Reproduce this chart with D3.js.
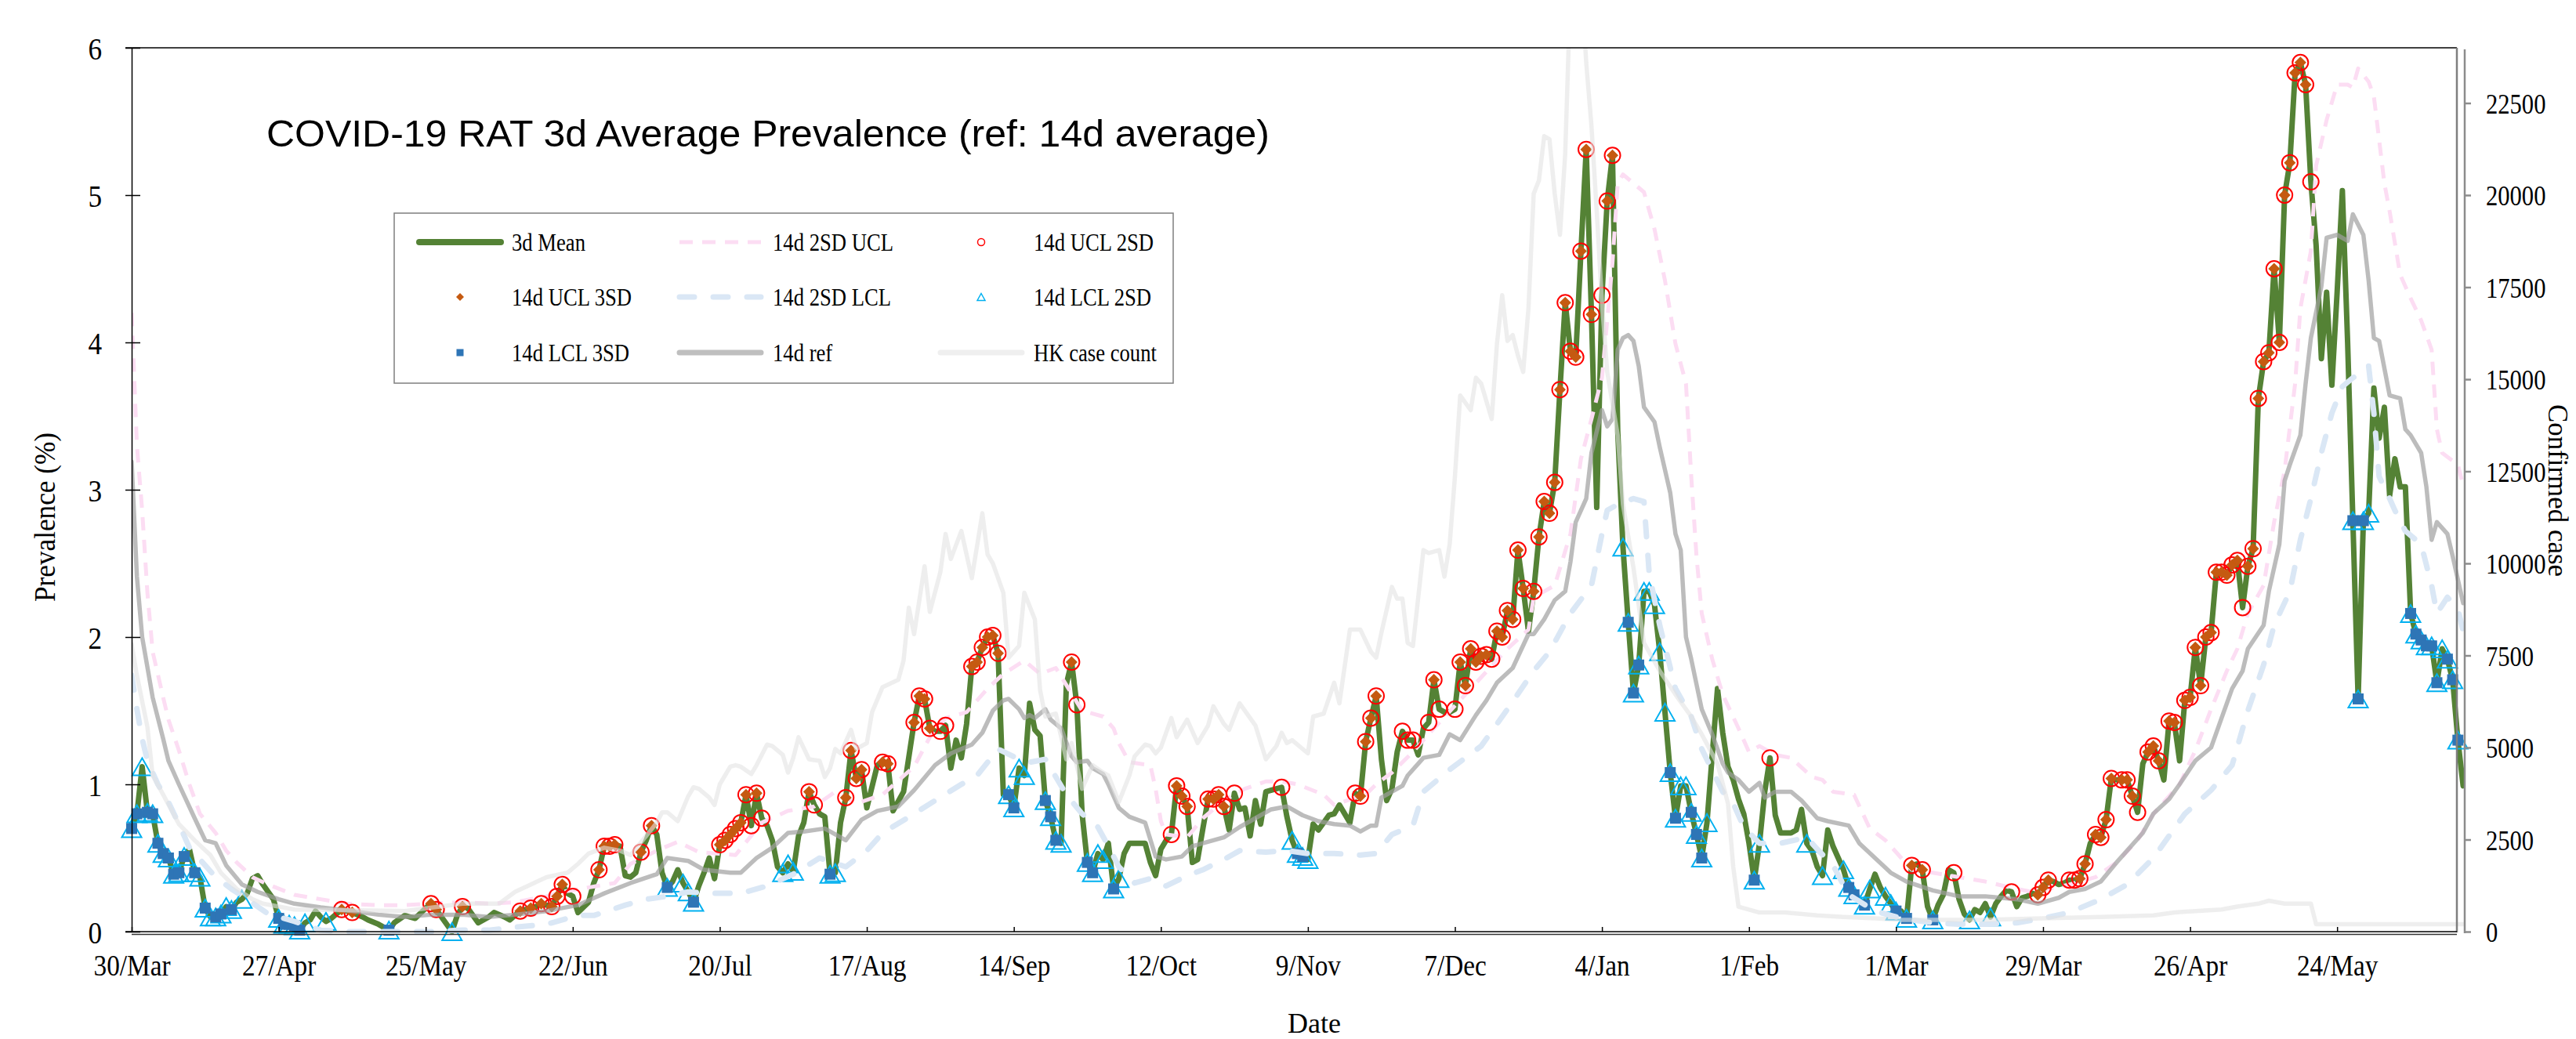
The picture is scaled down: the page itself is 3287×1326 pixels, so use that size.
<!DOCTYPE html>
<html>
<head>
<meta charset="utf-8">
<script src="https://cdn.jsdelivr.net/npm/d3@7"></script>
<style>
  html, body { margin: 0; padding: 0; background: #fff; }
  svg { display: block; }
</style>
</head>
<body>
<div id="chart"></div>
<script>
// ---- data (day offsets from 30/Mar/2022) ----
const startDate = new Date(Date.UTC(2022, 2, 30));
const tickDays = d3.range(0, 421, 28);
const leftTicks = [0, 1, 2, 3, 4, 5, 6];
const rightTicks = d3.range(0, 22501, 2500);

// 3d mean prevalence (%)
const mean3d = [
  [0,0.70],[1,0.80],[2,1.12],[3,0.81],[4,0.80],[5,0.60],[6,0.53],[7,0.50],[8,0.39],[9,0.40],
  [10,0.51],[11,0.56],[12,0.40],[13,0.37],[14,0.16],[15,0.10],[16,0.10],[17,0.12],[18,0.17],[19,0.15],
  [20,0.20],[21,0.22],[22,0.26],[23,0.36],[24,0.38],[25,0.32],[26,0.27],[27,0.22],[28,0.09],[29,0.05],
  [30,0.05],[31,0.04],[32,0.01],[33,0.06],[34,0.08],[35,0.14],[36,0.10],[37,0.07],[38,0.09],[39,0.12],
  [40,0.15],[41,0.14],[42,0.13],[44,0.10],[45,0.08],[47,0.05],[49,0.01],[50,0.06],[52,0.11],[54,0.09],
  [56,0.16],[57,0.19],[58,0.15],[59,0.10],[61,0.00],[62,0.11],[63,0.17],[64,0.16],[66,0.06],[68,0.10],
  [69,0.13],[71,0.10],[72,0.08],[74,0.14],[76,0.16],[77,0.17],[78,0.19],[79,0.18],[80,0.17],[81,0.24],
  [82,0.32],[83,0.26],[84,0.24],[85,0.13],[87,0.20],[88,0.33],[89,0.42],[90,0.58],[91,0.58],[92,0.59],
  [93,0.58],[94,0.38],[95,0.37],[96,0.40],[97,0.54],[98,0.62],[99,0.72],[100,0.66],[101,0.40],[102,0.30],
  [103,0.34],[104,0.42],[105,0.33],[106,0.27],[107,0.20],[108,0.31],[109,0.40],[110,0.50],[111,0.36],[112,0.59],
  [113,0.62],[114,0.66],[115,0.70],[116,0.74],[117,0.93],[118,0.72],[119,0.94],[120,0.77],[121,0.72],[122,0.62],
  [123,0.44],[124,0.40],[125,0.46],[126,0.41],[127,0.65],[128,0.74],[129,0.95],[130,0.86],[131,0.80],[132,0.78],
  [133,0.39],[134,0.40],[135,0.74],[136,0.91],[137,1.23],[138,1.04],[139,1.10],[140,0.84],[142,1.13],[143,1.15],
  [144,1.14],[145,0.82],[147,0.95],[149,1.42],[150,1.60],[151,1.58],[152,1.38],[153,1.36],[154,1.36],[155,1.40],
  [156,1.11],[157,1.30],[158,1.18],[159,1.41],[160,1.80],[161,1.83],[162,1.93],[163,2.00],[164,2.01],[165,1.89],
  [166,0.93],[167,0.93],[168,0.84],[169,1.11],[170,1.06],[171,1.55],[172,1.37],[173,1.33],[174,0.89],[175,0.78],
  [176,0.62],[177,0.60],[178,1.68],[179,1.83],[180,1.54],[181,0.80],[182,0.47],[183,0.40],[184,0.53],[185,0.49],
  [186,0.60],[187,0.29],[188,0.36],[189,0.53],[190,0.60],[193,0.60],[194,0.47],[195,0.38],[196,0.56],[197,0.62],
  [198,0.66],[199,0.99],[200,0.92],[201,0.85],[202,0.47],[203,0.49],[204,0.70],[205,0.90],[206,0.90],[207,0.93],
  [208,0.85],[209,0.69],[210,0.94],[211,0.83],[212,0.84],[213,0.65],[214,0.89],[215,0.73],[216,0.95],[218,0.97],
  [219,0.98],[220,0.78],[221,0.62],[222,0.53],[223,0.51],[224,0.49],[225,0.73],[226,0.69],[228,0.79],[229,0.80],
  [230,0.86],[232,0.74],[233,0.94],[234,0.92],[235,1.29],[236,1.45],[237,1.60],[238,1.17],[239,0.89],[240,0.97],
  [241,1.22],[242,1.36],[243,1.30],[244,1.30],[245,1.20],[246,1.38],[247,1.42],[248,1.71],[249,1.51],[250,1.49],
  [251,1.49],[252,1.51],[253,1.83],[254,1.67],[255,1.92],[256,1.83],[257,1.87],[258,1.88],[259,1.85],[260,2.04],
  [261,2.00],[262,2.18],[263,2.12],[264,2.59],[265,2.33],[266,2.04],[267,2.31],[268,2.68],[269,2.92],[270,2.84],
  [271,3.05],[272,3.68],[273,4.27],[274,3.94],[275,3.90],[276,4.62],[277,5.31],[278,4.19],[279,2.88],[280,4.32],
  [281,4.96],[282,5.27],[283,3.40],[284,2.61],[285,2.10],[286,1.62],[287,1.81],[288,2.31],[289,2.31],[290,2.22],
  [291,1.90],[292,1.49],[293,1.08],[294,0.77],[295,0.99],[296,0.99],[297,0.81],[298,0.66],[299,0.50],[300,0.74],
  [301,1.20],[302,1.65],[303,1.35],[304,1.12],[305,1.03],[306,0.90],[307,0.80],[308,0.60],[309,0.35],[310,0.60],
  [311,0.95],[312,1.18],[313,0.79],[314,0.67],[316,0.67],[317,0.69],[318,0.83],[319,0.60],[320,0.55],[321,0.44],
  [322,0.38],[323,0.69],[324,0.58],[325,0.50],[326,0.42],[327,0.30],[328,0.25],[329,0.22],[330,0.18],[331,0.29],
  [332,0.39],[333,0.30],[334,0.24],[335,0.19],[336,0.14],[337,0.14],[338,0.09],[339,0.45],[340,0.46],[341,0.42],
  [342,0.17],[343,0.08],[344,0.18],[345,0.25],[346,0.42],[347,0.40],[348,0.22],[349,0.12],[350,0.08],[351,0.15],
  [352,0.13],[353,0.19],[354,0.10],[355,0.19],[356,0.24],[357,0.28],[358,0.27],[359,0.17],[360,0.23],[361,0.24],
  [362,0.26],[363,0.25],[364,0.30],[365,0.35],[366,0.34],[367,0.32],[368,0.33],[369,0.35],[370,0.35],[371,0.36],
  [372,0.46],[373,0.60],[374,0.66],[375,0.64],[376,0.76],[377,1.04],[378,1.03],[379,1.03],[380,1.03],[381,0.92],
  [382,0.81],[383,1.14],[384,1.22],[385,1.26],[386,1.16],[387,1.03],[388,1.43],[389,1.42],[390,1.16],[391,1.57],
  [392,1.59],[393,1.93],[394,1.67],[395,2.00],[396,2.03],[397,2.44],[398,2.44],[399,2.42],[400,2.49],[401,2.52],
  [402,2.20],[403,2.48],[404,2.60],[405,3.62],[406,3.87],[407,3.93],[408,4.50],[409,4.00],[410,5.00],[411,5.22],
  [412,5.83],[413,5.90],[414,5.75],[415,5.09],[416,4.66],[417,3.89],[418,4.34],[419,3.71],[420,4.34],[421,5.03],
  [422,4.00],[423,2.79],[424,1.58],[425,2.79],[426,2.84],[427,3.69],[428,3.35],[429,3.56],[430,2.96],[431,3.21],
  [432,3.02],[433,3.02],[434,2.16],[435,2.02],[436,1.98],[437,1.94],[438,1.94],[439,1.69],[440,1.92],[441,1.85],
  [442,1.71],[443,1.30],[444,0.99]
];

// 14d reference average (%)
const ref14 = [
  [0,3.19],[1,2.41],[2,2.00],[4,1.59],[6,1.31],[7,1.16],[9,1.00],[12,0.77],[14,0.62],[16,0.60],[18,0.45],
  [21,0.32],[24,0.27],[28,0.22],[31,0.19],[36,0.165],[42,0.14],[47,0.115],[52,0.10],[57,0.115],[63,0.115],
  [68,0.10],[73,0.115],[79,0.14],[82,0.16],[85,0.18],[90,0.26],[95,0.33],[100,0.39],[102,0.50],[106,0.48],
  [109,0.42],[114,0.40],[116,0.40],[119,0.50],[122,0.57],[125,0.67],[128,0.68],[132,0.70],[136,0.62],[139,0.76],
  [142,0.82],[146,0.85],[149,0.96],[153,1.13],[156,1.21],[160,1.27],[162,1.35],[164,1.50],[166,1.57],[167,1.58],
  [169,1.51],[170,1.45],[171,1.47],[172,1.45],[174,1.51],[175,1.44],[177,1.38],[179,1.19],[180,1.15],[182,1.16],
  [183,1.11],[185,1.07],[186,1.00],[188,0.84],[190,0.78],[193,0.74],[195,0.51],[197,0.49],[200,0.51],[202,0.58],
  [204,0.60],[208,0.64],[211,0.71],[213,0.75],[217,0.83],[220,0.85],[223,0.79],[226,0.75],[229,0.73],[232,0.72],
  [234,0.68],[236,0.72],[237,0.72],[238,0.91],[240,0.95],[242,0.99],[243,1.06],[246,1.18],[249,1.20],[251,1.34],
  [253,1.30],[256,1.47],[258,1.57],[260,1.69],[263,1.79],[266,2.02],[267,2.02],[269,2.12],[271,2.25],[273,2.31],
  [274,2.51],[275,2.78],[277,2.94],[278,3.25],[280,3.54],[281,3.43],[282,3.48],[283,3.95],[284,4.03],[285,4.05],
  [286,4.01],[287,3.84],[288,3.56],[290,3.46],[291,3.29],[293,2.98],[294,2.70],[295,2.59],[296,2.00],[297,1.85],
  [299,1.51],[301,1.34],[303,1.14],[304,1.08],[306,1.03],[308,0.95],[310,1.01],[311,0.91],[313,0.95],[316,0.95],
  [318,0.89],[321,0.77],[323,0.75],[327,0.72],[329,0.60],[332,0.50],[335,0.40],[338,0.34],[343,0.28],[348,0.24],
  [353,0.24],[359,0.22],[363,0.19],[367,0.23],[369,0.27],[372,0.29],[375,0.34],[378,0.47],[380,0.55],[383,0.67],
  [385,0.80],[388,0.90],[390,1.00],[393,1.16],[396,1.25],[398,1.45],[400,1.65],[402,1.77],[403,1.92],[406,2.08],
  [407,2.31],[409,2.63],[410,3.06],[411,3.17],[413,3.37],[414,3.72],[415,4.03],[417,4.38],[418,4.71],[420,4.73],
  [422,4.69],[423,4.87],[425,4.73],[426,4.42],[427,4.03],[428,4.01],[430,3.64],[432,3.62],[433,3.41],[434,3.37],
  [436,3.25],[437,3.02],[438,2.66],[439,2.78],[441,2.70],[442,2.55],[444,2.23]
];

// 14d 2SD upper control limit (%)
const ucl2sd = [
  [0,4.20],[1,3.30],[2,2.86],[3,2.30],[4,1.90],[6,1.59],[7,1.44],[9,1.23],[11,1.00],[13,0.80],[16,0.67],
  [18,0.55],[20,0.47],[23,0.37],[26,0.32],[31,0.25],[36,0.22],[41,0.19],[47,0.18],[52,0.18],[57,0.19],
  [63,0.20],[68,0.19],[73,0.20],[79,0.24],[82,0.27],[87,0.30],[92,0.33],[95,0.46],[100,0.55],[104,0.61],
  [108,0.54],[115,0.52],[120,0.74],[125,0.82],[130,0.85],[134,0.95],[138,0.87],[143,0.93],[149,1.12],[152,1.32],
  [155,1.45],[159,1.49],[163,1.65],[166,1.75],[170,1.84],[173,1.75],[176,1.79],[181,1.50],[185,1.46],[187,1.38],
  [188,1.28],[190,1.15],[194,1.13],[195,0.97],[196,0.75],[197,0.66],[201,0.64],[204,0.77],[208,0.89],[212,0.97],
  [216,1.02],[219,1.02],[222,1.00],[227,0.93],[229,0.86],[233,0.91],[235,0.93],[237,1.00],[240,1.08],[244,1.22],
  [248,1.38],[254,1.61],[262,1.92],[266,2.05],[267,2.27],[271,2.35],[274,2.70],[276,3.21],[278,3.48],[280,3.76],
  [282,4.54],[283,5.08],[284,5.14],[288,5.02],[290,4.77],[292,4.42],[294,3.99],[296,3.72],[297,3.09],[298,2.55],
  [299,2.16],[301,1.85],[303,1.61],[306,1.38],[308,1.22],[310,1.26],[313,1.20],[316,1.18],[320,1.05],[322,1.03],
  [324,0.95],[328,0.93],[331,0.70],[334,0.62],[337,0.50],[339,0.42],[343,0.40],[348,0.37],[353,0.34],[359,0.29],
  [362,0.27],[365,0.29],[369,0.32],[374,0.37],[378,0.47],[382,0.62],[385,0.80],[390,1.00],[393,1.23],[396,1.51],
  [399,1.77],[401,1.92],[403,2.16],[406,2.35],[408,2.78],[410,3.13],[412,3.72],[413,4.23],[415,4.62],[416,5.20],
  [418,5.51],[420,5.75],[422,5.75],[423,5.73],[424,5.86],[426,5.77],[427,5.67],[429,5.08],[430,4.89],[432,4.46],
  [434,4.30],[436,4.15],[438,3.95],[439,3.41],[440,3.25],[443,3.17],[444,3.03]
];

// 14d 2SD lower control limit (%)
const lcl2sd = [
  [0,1.74],[1,1.51],[2,1.31],[3,1.16],[5,1.00],[7,0.88],[9,0.73],[11,0.57],[14,0.45],[16,0.37],[19,0.29],
  [22,0.22],[26,0.12],[31,0.07],[36,0.01],[41,0.00],[47,0.00],[57,0.00],[63,0.01],[68,0.01],[73,0.03],
  [79,0.05],[81,0.07],[85,0.11],[88,0.11],[94,0.18],[98,0.22],[102,0.24],[106,0.27],[110,0.26],[116,0.26],
  [121,0.31],[126,0.39],[131,0.50],[136,0.44],[140,0.55],[143,0.67],[149,0.80],[153,0.89],[158,1.00],[161,1.06],
  [165,1.24],[169,1.17],[171,1.15],[174,1.17],[178,0.93],[181,0.80],[184,0.71],[186,0.58],[188,0.44],[191,0.33],
  [194,0.36],[197,0.31],[201,0.38],[204,0.42],[208,0.49],[211,0.55],[216,0.54],[220,0.55],[224,0.53],[229,0.53],
  [234,0.52],[237,0.53],[240,0.66],[244,0.72],[246,0.95],[251,1.10],[257,1.26],[262,1.51],[267,1.77],[270,1.90],
  [274,2.16],[278,2.35],[280,2.70],[281,2.86],[283,2.90],[286,2.94],[288,2.92],[289,2.43],[291,2.08],[294,1.65],
  [297,1.46],[299,1.24],[303,0.95],[305,0.87],[307,0.71],[310,0.60],[314,0.60],[319,0.64],[321,0.56],[324,0.45],
  [327,0.25],[332,0.14],[337,0.09],[343,0.06],[348,0.05],[353,0.05],[359,0.06],[364,0.09],[369,0.13],[375,0.22],
  [380,0.32],[385,0.50],[391,0.80],[396,0.96],[400,1.13],[403,1.50],[406,1.81],[408,2.08],[411,2.31],[413,2.66],
  [415,2.94],[417,3.25],[419,3.52],[421,3.70],[423,3.76],[424,3.78],[426,3.84],[427,3.52],[428,3.09],[430,2.94],
  [431,2.86],[433,2.72],[436,2.63],[438,2.35],[439,2.16],[441,2.27],[443,2.19],[444,2.04]
];

// HK confirmed cases (right axis)
const hkCases = [
  [0,7800],[1,6960],[3,5560],[4,4240],[6,3720],[9,2920],[12,2480],[15,2080],[17,1600],[20,1160],[23,880],
  [25,760],[31,600],[52,560],[63,760],[70,760],[73,1080],[79,1480],[83,1600],[85,1840],[87,2120],[90,2280],
  [93,2200],[95,2080],[98,2600],[100,2960],[101,3240],[102,3240],[104,3000],[106,3680],[107,3920],[108,3880],
  [110,3640],[111,3440],[112,4000],[114,4480],[115,4520],[116,4480],[118,4280],[119,4520],[121,5080],[122,5040],
  [124,4800],[125,4320],[126,4720],[127,5280],[129,4680],[131,4640],[132,4200],[133,4440],[134,4960],[135,4840],
  [137,5480],[138,4960],[140,5120],[141,5960],[143,6640],[146,6840],[147,7360],[148,8800],[149,8080],[151,9920],
  [152,8680],[154,9760],[155,10800],[156,10120],[158,10880],[160,9600],[162,11360],[163,10240],[164,10000],[166,9200],
  [167,7440],[169,7760],[170,9200],[172,8480],[173,6560],[174,5840],[176,5920],[178,4680],[179,5120],[181,3880],
  [183,4520],[185,4320],[186,4240],[188,3520],[190,4240],[191,4760],[193,5080],[194,5040],[195,4840],[196,5000],
  [198,5800],[199,5280],[201,5760],[203,5120],[205,5600],[206,6120],[208,5640],[209,5480],[211,6200],[214,5600],
  [216,4680],[218,5040],[219,5400],[220,5120],[221,5200],[224,4840],[225,5840],[227,5920],[229,6760],[230,6200],
  [232,8200],[234,8200],[236,7600],[237,7440],[238,8120],[240,9360],[241,9040],[242,9040],[243,7840],[244,7760],
  [246,10360],[247,10280],[249,10360],[250,9640],[251,10520],[252,12360],[253,14560],[255,14160],[256,15040],[257,14880],
  [259,13920],[260,15960],[261,17280],[262,16040],[263,16200],[264,15640],[265,15200],[266,16920],[267,20040],[268,20400],
  [269,21600],[270,21520],[271,20040],[272,18920],[273,21120],[274,25600],[275,26500],[276,26000],[277,23600],[278,21880],
  [279,19560],[280,17080],[281,15200],[283,13480],[284,11600],[286,9880],[288,7840],[291,7080],[294,6440],[297,5840],
  [299,5360],[302,4560],[304,3480],[305,1760],[306,680],[310,520],[315,520],[321,440],[326,400],[332,360],
  [337,320],[353,320],[364,360],[375,400],[385,440],[389,520],[393,560],[398,600],[401,680],[405,760],
  [407,840],[410,760],[415,760],[416,200],[444,200]
];

// days on which the 3d mean is flagged
const ucl2Days = [40,42,57,58,63,74,76,78,80,81,82,84,89,90,91,92,97,99,112,113,114,115,116,117,118,119,120,129,130,
  136,137,138,139,143,144,149,150,151,152,154,155,160,161,162,163,164,165,179,180,198,199,200,201,205,206,207,208,210,
  219,233,234,235,236,237,242,243,244,247,248,249,252,253,254,255,256,257,258,259,260,261,262,263,264,265,267,268,269,
  270,271,272,273,274,275,276,277,278,280,281,282,312,339,341,347,358,363,364,365,369,370,371,372,374,375,376,377,379,
  380,381,382,384,385,386,388,389,391,392,393,394,395,396,397,398,399,400,401,402,403,404,405,406,407,408,409,410,411,
  412,413,414,415];
const ucl3Days = [40,42,57,58,63,74,76,78,80,81,82,89,90,91,92,97,99,112,113,114,115,116,117,119,129,136,137,138,139,
  143,144,149,150,151,152,160,161,162,163,164,165,179,199,200,201,205,206,207,208,234,235,236,237,248,253,254,255,256,
  257,258,260,261,262,263,264,265,267,268,269,270,271,272,273,274,275,276,277,278,281,282,339,341,363,364,365,371,372,
  374,375,376,377,379,380,381,384,385,386,388,389,391,392,393,394,395,396,397,398,399,400,401,403,404,405,406,407,408,
  409,410,411,412,413,414];
const lcl2Days = [0,1,2,3,4,5,6,7,8,9,10,12,13,14,15,16,17,18,19,21,28,29,30,31,32,33,37,49,61,102,105,106,107,124,125,
  126,133,134,167,168,169,170,174,175,176,177,182,183,184,185,187,188,221,222,223,224,284,285,286,287,288,289,290,291,
  292,293,294,295,296,297,298,299,300,309,310,319,322,326,327,328,330,331,334,335,336,338,343,350,354,423,424,425,426,
  434,435,436,437,438,439,440,441,442,443];
const lcl3Days = [0,1,3,4,5,6,7,8,9,10,12,14,16,17,19,28,29,30,31,32,49,102,107,133,167,168,174,175,176,182,183,187,
  222,223,285,286,287,293,294,297,298,299,309,327,328,330,336,338,343,423,424,425,434,435,436,437,438,439,441,442,443];

// ---- layout ----
const W = 3287, H = 1326;
const plot = { left: 168, right: 3143, top: 61, bottom: 1189 };
const serif = '"Liberation Serif", "Times New Roman", serif';
const sans = '"Liberation Sans", Arial, sans-serif';

const day = d => d3.utcDay.offset(startDate, d);
const x = d3.scaleUtc().domain([startDate, day(444)]).range([plot.left, plot.right]);
const y = d3.scaleLinear().domain([0, 6]).range([plot.bottom, plot.top]);
const y2 = d3.scaleLinear().domain([0, 24000]).range([plot.bottom, plot.top]);

const svg = d3.select("#chart").append("svg")
  .attr("width", W).attr("height", H)
  .style("font-family", serif);

svg.append("rect").attr("width", W).attr("height", H).attr("fill", "#fff");

svg.append("defs").append("clipPath").attr("id", "plotClip")
  .append("rect")
  .attr("x", plot.left).attr("y", plot.top)
  .attr("width", 3146 - plot.left).attr("height", plot.bottom - plot.top + 3);

const line = d3.line().x(d => x(day(d[0]))).y(d => y(d[1]));
const line2 = d3.line().x(d => x(day(d[0]))).y(d => y2(d[1]));

const meanByDay = new Map(mean3d);
const flagged = days => days.filter(d => meanByDay.has(d)).map(d => [d, meanByDay.get(d)]);

const lines = svg.append("g").attr("clip-path", "url(#plotClip)");
const marks = svg.append("g");

function drawLine(g, data, gen, color, width, dash, cap, opacity) {
  g.append("path")
    .datum(data)
    .attr("d", gen)
    .attr("fill", "none")
    .attr("stroke", color)
    .attr("stroke-width", width)
    .attr("stroke-linejoin", "round")
    .attr("stroke-linecap", cap || "butt")
    .attr("stroke-dasharray", dash || null)
    .attr("opacity", opacity || 1);
}

const diamondPath = s => `M0,${-s}L${s},0L0,${s}L${-s},0Z`;
const trianglePath = (w, h) => `M0,${-h}L${w},${h}L${-w},${h}Z`;

// series order as in the legend; secondary axis series on top
drawLine(lines, mean3d, line, "#548235", 7, null, "round");
drawLine(lines, ucl2sd, line, "#FCDDF3", 5, "17,12");

marks.append("g").selectAll("circle")
  .data(flagged(ucl2Days)).enter().append("circle")
  .attr("cx", d => x(day(d[0]))).attr("cy", d => y(d[1]))
  .attr("r", 10).attr("fill", "none").attr("stroke", "#FF0000").attr("stroke-width", 2);

marks.append("g").selectAll("path")
  .data(flagged(ucl3Days)).enter().append("path")
  .attr("transform", d => `translate(${x(day(d[0]))},${y(d[1])})`)
  .attr("d", diamondPath(7.5)).attr("fill", "#C55A11");

const lclG = svg.append("g").attr("clip-path", "url(#plotClip)");
drawLine(lclG, lcl2sd, line, "#DAE7F5", 7, "19,24", "round");

marks.append("g").selectAll("path")
  .data(flagged(lcl2Days)).enter().append("path")
  .attr("transform", d => `translate(${x(day(d[0]))},${y(d[1])})`)
  .attr("d", trianglePath(12.5, 11)).attr("fill", "none")
  .attr("stroke", "#00B0F0").attr("stroke-width", 2);

marks.append("g").selectAll("rect")
  .data(flagged(lcl3Days)).enter().append("rect")
  .attr("x", d => x(day(d[0])) - 7).attr("y", d => y(d[1]) - 7)
  .attr("width", 14).attr("height", 14).attr("fill", "#2E75B6");

const topG = svg.append("g").attr("clip-path", "url(#plotClip)");
drawLine(topG, ref14, line, "#A0A0A0", 5.5, null, "round", 0.7);
drawLine(topG, hkCases, line2, "#E2E2E2", 5.5, null, "round", 0.6);

// ---- frame ----
svg.append("line").attr("x1", 160).attr("x2", 3135).attr("y1", plot.top).attr("y2", plot.top)
  .attr("stroke", "#000").attr("stroke-width", 1.5);
svg.append("line").attr("x1", 3135).attr("x2", 3135).attr("y1", plot.top).attr("y2", 1190)
  .attr("stroke", "#7F7F7F").attr("stroke-width", 2.5);
svg.append("line").attr("x1", 168).attr("x2", 3135).attr("y1", 1192.5).attr("y2", 1192.5)
  .attr("stroke", "#333").attr("stroke-width", 1.5);

// left axis
const yAxis = svg.append("g").attr("transform", `translate(${plot.left},0)`)
  .call(d3.axisLeft(y).tickValues(leftTicks).tickFormat(d3.format("d")).tickSizeOuter(0));
yAxis.select(".domain").attr("stroke", "#000").attr("stroke-width", 1.5);
yAxis.selectAll(".tick line").attr("x1", 11).attr("x2", -8).attr("stroke", "#000").attr("stroke-width", 1.5);
yAxis.selectAll(".tick text")
  .attr("x", 0).attr("dy", "0.35em")
  .attr("transform", "translate(-38,0) scale(0.88,1)")
  .attr("text-anchor", "end")
  .style("font-family", serif).style("font-size", "40px").attr("fill", "#000");

// bottom axis
const xAxis = svg.append("g").attr("transform", `translate(0,${plot.bottom})`)
  .call(d3.axisBottom(x).tickValues(tickDays.map(day))
    .tickFormat(d3.utcFormat("%-d/%b")).tickSizeInner(-6).tickSizeOuter(0));
xAxis.select(".domain").remove();
xAxis.append("line").attr("x1", 160).attr("x2", 3135).attr("y1", 0).attr("y2", 0)
  .attr("stroke", "#000").attr("stroke-width", 1.5);
xAxis.selectAll(".tick line").attr("stroke", "#000").attr("stroke-width", 1.5);
xAxis.selectAll(".tick text")
  .attr("y", 0).attr("dy", 0)
  .attr("transform", "translate(0,56) scale(0.9,1)")
  .style("font-family", serif).style("font-size", "37px").attr("fill", "#000");

// right axis
const y2Axis = svg.append("g").attr("transform", "translate(3145,0)")
  .call(d3.axisRight(y2).tickValues(rightTicks).tickFormat(d3.format("d")).tickSizeInner(8).tickSizeOuter(0));
y2Axis.select(".domain").remove();
y2Axis.append("line").attr("x1", 0).attr("x2", 0).attr("y1", 63).attr("y2", 1191)
  .attr("stroke", "#8C8C8C").attr("stroke-width", 2.5);
y2Axis.selectAll(".tick line").attr("stroke", "#8C8C8C").attr("stroke-width", 2.5);
y2Axis.selectAll(".tick text")
  .attr("x", 0).attr("dy", "0.35em")
  .attr("transform", "translate(27,0) scale(0.85,1)")
  .attr("text-anchor", "start")
  .style("font-family", serif).style("font-size", "36px").attr("fill", "#000");

// axis titles
svg.append("text")
  .attr("transform", "translate(70,660) rotate(-90)")
  .attr("text-anchor", "middle")
  .attr("textLength", 216).attr("lengthAdjust", "spacingAndGlyphs")
  .style("font-size", "38px").text("Prevalence (%)");

svg.append("text")
  .attr("transform", "translate(3252,626) rotate(90)")
  .attr("text-anchor", "middle")
  .attr("textLength", 220).attr("lengthAdjust", "spacingAndGlyphs")
  .style("font-size", "36px").text("Confirmed case");

svg.append("text")
  .attr("x", 1677).attr("y", 1318)
  .attr("text-anchor", "middle")
  .style("font-size", "36px").text("Date");

// title
svg.append("text")
  .attr("x", 340).attr("y", 187)
  .attr("textLength", 1280).attr("lengthAdjust", "spacingAndGlyphs")
  .style("font-family", sans).style("font-size", "49px").attr("fill", "#000")
  .text("COVID-19 RAT 3d Average Prevalence (ref: 14d average)");

// ---- legend ----
const legend = svg.append("g");
legend.append("rect")
  .attr("x", 503).attr("y", 272).attr("width", 994).attr("height", 217)
  .attr("fill", "#fff").attr("stroke", "#7F7F7F").attr("stroke-width", 1.5);

const rowsY = [309, 379, 450];
const colX = [587, 919, 1252];
const colText = [653, 986, 1319];
const legendItems = [
  { name: "3d Mean", type: "line", color: "#548235", width: 8 },
  { name: "14d 2SD UCL", type: "dash", color: "#FCDDF3", width: 5, dash: "17,12" },
  { name: "14d UCL 2SD", type: "circle" },
  { name: "14d UCL 3SD", type: "diamond" },
  { name: "14d 2SD LCL", type: "dash", color: "#DAE7F5", width: 7, dash: "19,24", cap: "round" },
  { name: "14d LCL 2SD", type: "triangle" },
  { name: "14d LCL 3SD", type: "square" },
  { name: "14d ref", type: "line", color: "#BFBFBF", width: 7 },
  { name: "HK case count", type: "line", color: "#EFEFEF", width: 7 }
];

legendItems.forEach((item, i) => {
  const cx = colX[i % 3], cy = rowsY[Math.floor(i / 3)];
  const g = legend.append("g").attr("transform", `translate(${cx},${cy})`);
  if (item.type === "line" || item.type === "dash") {
    g.append("line").attr("x1", -52).attr("x2", 52).attr("y1", 0).attr("y2", 0)
      .attr("stroke", item.color).attr("stroke-width", item.width)
      .attr("stroke-dasharray", item.dash || null)
      .attr("stroke-linecap", item.cap || (item.type === "line" ? "round" : "butt"));
  } else if (item.type === "circle") {
    g.append("circle").attr("r", 4.5).attr("fill", "none").attr("stroke", "#FF0000").attr("stroke-width", 1.5);
  } else if (item.type === "diamond") {
    g.append("path").attr("d", diamondPath(5)).attr("fill", "#C55A11");
  } else if (item.type === "triangle") {
    g.append("path").attr("d", trianglePath(5, 4.5)).attr("fill", "none")
      .attr("stroke", "#00B0F0").attr("stroke-width", 1.5);
  } else if (item.type === "square") {
    g.append("rect").attr("x", -4.5).attr("y", -4.5).attr("width", 9).attr("height", 9).attr("fill", "#2E75B6");
  }
  legend.append("text")
    .attr("transform", `translate(${colText[i % 3]},${cy}) scale(0.86,1)`)
    .attr("dy", "0.35em")
    .style("font-size", "31px").attr("fill", "#000")
    .text(item.name);
});
</script>
</body>
</html>
